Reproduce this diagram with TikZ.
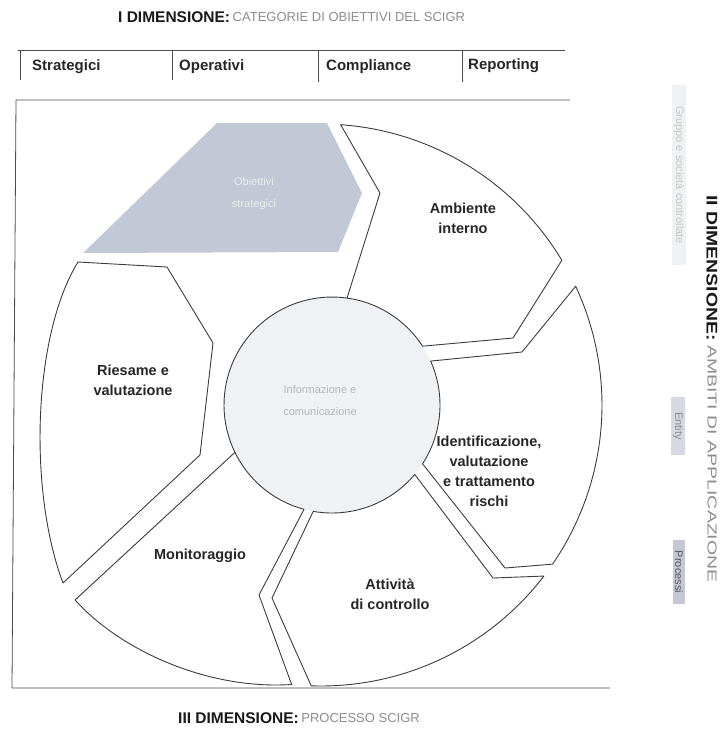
\documentclass[tikz,border=0pt]{standalone}
\usepackage{fontspec}
\setmainfont{Liberation Sans}
\usetikzlibrary{calc}
\definecolor{segline}{RGB}{60,60,60}
\definecolor{objfill}{RGB}{194,200,213}
\definecolor{dimgray}{RGB}{140,140,145}
\definecolor{faint}{RGB}{240,241,244}
\definecolor{entfill}{RGB}{214,217,226}
\definecolor{profill}{RGB}{196,200,212}
\begin{document}
\begin{tikzpicture}[x=1pt,y=-1pt,
  seg/.style={draw=segline, line width=0.9pt, line join=round},
  frameline/.style={draw=black!70, line width=0.8pt},
  lbl/.style={font=\fontsize{14.5}{20}\selectfont\bfseries, align=center, text=black!85, inner sep=0pt},
  catlbl/.style={font=\fontsize{15}{18}\selectfont\bfseries, text=black!85, anchor=west, inner sep=0pt},
  dimb/.style={font=\fontsize{15.5}{18}\selectfont\bfseries, text=black!90, inner sep=0pt},
  dimg/.style={font=\fontsize{13}{16}\selectfont, text=dimgray, inner sep=0pt},
  sidebox/.style={inner sep=2pt, font=\fontsize{11}{12}\selectfont, rotate=-90}
]
\useasboundingbox (0,0) rectangle (723,748);
\def\ox{321}\def\oy{405}\def\R{281}
\def\cx{332}\def\cy{405}\def\ri{108}

% ---- Title I dimension
\node[dimb, anchor=west] (t1a) at (118,17) {I DIMENSIONE:};
\node[dimg, anchor=west] (t1b) at (t1a.east) {\,CATEGORIE DI OBIETTIVI DEL SCIGR};

% ---- categories row
\draw[frameline] (18,50) -- (565,50);
\draw[frameline] (20,50) -- (20,80);
\draw[frameline] (172,50) -- (172,80);
\draw[frameline] (318,50) -- (318,82);
\draw[frameline] (462,50) -- (462,82);
\node[catlbl] (c1) at (32,67) {Strategici};
\node[catlbl] (c2) at (179,67) {Operativi};
\node[catlbl] (c3) at (326,67) {Compliance};
\node[catlbl] (c4) at (468,66) {Reporting};

% ---- frame
\draw[frameline] (570,100) -- (16,100) -- (12,688) -- (610,688);

% ---- inner circle faint fill
\fill[faint] (\cx,\cy) circle[radius=\ri];

% ---- Obiettivi strategici (grey filled)
\fill[objfill] (217,123) -- (327,123) -- (362,193) -- (338,252) -- (83,253) -- cycle;
\node[font=\fontsize{11}{22}\selectfont, text=white!92!black, align=center] (obj) at (254,194) {Obiettivi\\strategici};

% ---- Ambiente interno
\draw[seg] plot[domain=86:31, samples=40] ({\ox+\R*cos(\x)},{\oy-\R*sin(\x)})
  -- (513,338) -- ({\cx+\ri*cos(33)},{\cy-\ri*sin(33)})
  -- plot[domain=33:82, samples=30] ({\cx+\ri*cos(\x)},{\cy-\ri*sin(\x)})
  -- (380,193) -- cycle;
% ---- Identificazione
\draw[seg] plot[domain=25:-34.5, samples=40] ({\ox+\R*cos(\x)},{\oy-\R*sin(\x)})
  -- (505,568) -- ({\cx+\ri*cos(-33)},{\cy-\ri*sin(-33)})
  -- plot[domain=-33:24, samples=30] ({\cx+\ri*cos(\x)},{\cy-\ri*sin(\x)})
  -- (522,352) -- cycle;
% ---- Attivita
\draw[seg] plot[domain=-37.5:-92, samples=40] ({\ox+\R*cos(\x)},{\oy-\R*sin(\x)})
  -- (272,598) -- ({\cx+\ri*cos(-100)},{\cy-\ri*sin(-100)})
  -- plot[domain=-100:-40, samples=30] ({\cx+\ri*cos(\x)},{\cy-\ri*sin(\x)})
  -- (493,578) -- cycle;
% ---- Monitoraggio
\draw[seg] ({\ox+\R*cos(-96)},{\oy-\R*sin(-96)})
  .. controls (210,690) and (122,652) .. (75,600)
  -- ({\cx+\ri*cos(-154)},{\cy-\ri*sin(-154)})
  -- plot[domain=-154:-105, samples=30] ({\cx+\ri*cos(\x)},{\cy-\ri*sin(\x)})
  -- (259,595) -- cycle;
% ---- Riesame
\draw[seg] (63,583) .. controls (28,490) and (33,335) .. (78,262)
  -- (167,267) -- (213,343) -- (200,455) -- cycle;

% ---- inner circle outline (left part, between segments)
\draw[seg] plot[domain=82:206, samples=40] ({\cx+\ri*cos(\x)},{\cy-\ri*sin(\x)});

% ---- labels
\node[lbl] (amb) at (463,218) {Ambiente\\interno};
\node[lbl] (idt) at (489,471) {Identificazione,\\valutazione\\e trattamento\\rischi};
\node[lbl] (att) at (390,594) {Attività\\di controllo};
\node[lbl] (mon) at (200,556) {Monitoraggio};
\node[lbl] (ries) at (133,380) {Riesame e\\valutazione};
\node[font=\fontsize{11}{22}\selectfont, text=black!28, align=center] (inf) at (320,401) {Informazione e\\comunicazione};

% ---- bottom title
\node[dimb, anchor=west] (t3a) at (178,718) {III DIMENSIONE:};
\node[dimg, anchor=west] (t3b) at (t3a.east) {\,PROCESSO SCIGR};

% ---- right side
\node[dimb, rotate=-90, anchor=west, xscale=1.25] (t2a) at (712,195) {II DIMENSIONE:};
\node[dimg, rotate=-90, anchor=west, xscale=1.5] (t2b) at (712,345) {AMBITI DI APPLICAZIONE};
\node[sidebox, fill=faint, text=black!22, minimum width=180pt] (s1) at (679,175) {Gruppo e società controllate};
\node[sidebox, fill=entfill, text=black!45, minimum width=58pt] (s2) at (678,426) {Entity};
\node[sidebox, fill=profill, text=black!65, minimum width=64pt] (s3) at (679,572) {Processi};
\end{tikzpicture}
\end{document}
